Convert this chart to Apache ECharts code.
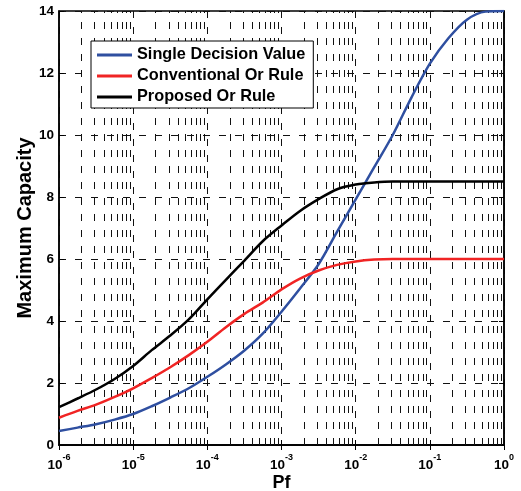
<!DOCTYPE html>
<html>
<head>
<meta charset="utf-8">
<script src="https://cdn.jsdelivr.net/npm/echarts@6/dist/echarts.min.js"></script>
<style>
    html, body { margin: 0; padding: 0; background: #fff; }
    #chart { width: 521px; height: 491px; }
</style>
</head>
<body>
<div id="chart"></div>
<script>
// x positions (Pf), quarter-decade steps
var pf = [1e-6, 1.778e-6, 3.162e-6, 5.623e-6,
          1e-5, 1.778e-5, 3.162e-5, 5.623e-5,
          1e-4, 1.778e-4, 3.162e-4, 5.623e-4,
          1e-3, 1.778e-3, 3.162e-3, 5.623e-3,
          1e-2, 1.778e-2, 3.162e-2, 5.623e-2,
          0.1, 0.1778, 0.3162, 0.5623, 1];

var singleDecision = [0.45, 0.56, 0.67, 0.82, 1.00, 1.25, 1.53, 1.83, 2.20, 2.60, 3.05, 3.60,
                      4.30, 5.05, 5.83, 6.88, 7.92, 8.96, 10.00, 11.20, 12.30, 13.12, 13.72, 13.98, 14.00];
var conventionalOr = [0.88, 1.10, 1.30, 1.55, 1.83, 2.16, 2.51, 2.90, 3.33, 3.80, 4.23, 4.60,
                      5.02, 5.37, 5.63, 5.81, 5.92, 5.98, 6.00, 6.00, 6.00, 6.00, 6.00, 6.00, 6.00];
var proposedOr = [1.22, 1.50, 1.79, 2.13, 2.55, 3.06, 3.53, 4.05, 4.70, 5.33, 5.95, 6.58,
                  7.08, 7.55, 7.93, 8.25, 8.40, 8.47, 8.50, 8.50, 8.50, 8.50, 8.50, 8.50, 8.50];

var seriesNames = ['Single Decision Value', 'Conventional Or Rule', 'Proposed Or Rule'];
var yTicks = [0, 2, 4, 6, 8, 10, 12, 14];

(function () {
    'use strict';

    var chart = echarts.init(document.getElementById('chart'));
    var font = 'Liberation Sans, Arial, Helvetica, sans-serif';
    var yMin = yTicks[0];
    var yMax = yTicks[yTicks.length - 1];

    function pairs(ys) {
        var out = [];
        for (var i = 0; i < pf.length; i++) {
            out.push([pf[i], ys[i]]);
        }
        return out;
    }

    // minor log grid lines at 2..9 of each decade
    var minorLines = [];
    for (var d = -6; d < 0; d++) {
        for (var k = 2; k <= 9; k++) {
            minorLines.push([k * Math.pow(10, d), yMin]);
        }
    }

    var gridDash = {color: '#111', width: 1, type: [7, 9]};

    function curve(name, color, ys) {
        return {
            name: name,
            type: 'line',
            data: pairs(ys),
            symbol: 'none',
            smooth: 0.3,
            lineStyle: {color: color, width: 2.5},
            itemStyle: {color: color},
            z: 3
        };
    }

    var option = {
        backgroundColor: '#fff',
        animation: false,
        textStyle: {fontFamily: font},
        grid: {
            left: 59, right: 17, top: 11, bottom: 46,
            outerBoundsMode: 'none',
            containLabel: false,
            show: true, borderColor: '#000', borderWidth: 1.5
        },
        legend: {
            orient: 'vertical',
            left: 91, top: 41,
            icon: 'rect',
            itemWidth: 35, itemHeight: 3, itemGap: 5,
            padding: [6, 8, 3, 6],
            borderColor: '#000', borderWidth: 1,
            backgroundColor: '#fff',
            textStyle: {fontSize: 16.3, fontWeight: 'bold', color: '#000', lineHeight: 16, fontFamily: font},
            data: seriesNames
        },
        xAxis: [{
            type: 'log',
            logBase: 10,
            min: 1e-6, max: 1,
            splitNumber: 6,
            axisLine: {lineStyle: {color: '#000', width: 1.5}},
            axisTick: {inside: true, length: 5, lineStyle: {color: '#000'}},
            axisLabel: {
                margin: 8,
                color: '#000',
                formatter: function (v) {
                    var e = Math.round(Math.log(v) / Math.LN10);
                    return '{b|10}{s|' + e + '}';
                },
                rich: {
                    b: {fontSize: 13.5, fontWeight: 'bold', color: '#000', fontFamily: font},
                    s: {fontSize: 9, fontWeight: 'bold', color: '#000', fontFamily: font, padding: [0, 0, 16, 0]}
                }
            },
            splitLine: {show: true, lineStyle: gridDash},
            name: 'Pf',
            nameLocation: 'middle',
            nameGap: 29,
            nameMoveOverlap: false,
            nameTextStyle: {fontSize: 18, fontWeight: 'bold', color: '#000', fontFamily: font}
        }, {
            type: 'log',
            logBase: 10,
            position: 'top',
            min: 1e-6, max: 1,
            splitNumber: 6,
            axisLine: {lineStyle: {color: '#000', width: 1.5}},
            axisTick: {inside: true, length: 5, lineStyle: {color: '#000'}},
            axisLabel: {show: false},
            splitLine: {show: false}
        }],
        yAxis: [{
            type: 'value',
            min: yMin, max: yMax, interval: 2,
            axisLine: {show: true, lineStyle: {color: '#000', width: 1.5}},
            axisTick: {inside: true, length: 5, lineStyle: {color: '#000'}},
            axisLabel: {margin: 5, fontSize: 13.5, fontWeight: 'bold', color: '#000', fontFamily: font},
            splitLine: {show: true, lineStyle: gridDash},
            name: 'Maximum Capacity',
            nameLocation: 'middle',
            nameGap: 24,
            nameMoveOverlap: false,
            nameTextStyle: {fontSize: 20, fontWeight: 'bold', color: '#000', fontFamily: font}
        }, {
            type: 'value',
            position: 'right',
            min: yMin, max: yMax, interval: 2,
            axisLine: {show: true, lineStyle: {color: '#000', width: 1.5}},
            axisTick: {inside: true, length: 5, lineStyle: {color: '#000'}},
            axisLabel: {show: false},
            splitLine: {show: false}
        }],
        series: [
            {
                name: 'minor-grid',
                type: 'custom',
                silent: true,
                z: 1,
                data: minorLines,
                encode: {x: 0, y: 1},
                renderItem: function (params, api) {
                    var p0 = api.coord([api.value(0), yMin]);
                    var p1 = api.coord([api.value(0), yMax]);
                    var x = Math.round(p0[0]) + 0.5;
                    return {
                        type: 'line',
                        shape: {x1: x, y1: p0[1], x2: x, y2: p1[1]},
                        style: {stroke: '#111', lineWidth: 1, lineDash: [7, 9]}
                    };
                }
            },
            curve(seriesNames[0], '#2f4fa0', singleDecision),
            curve(seriesNames[1], '#f02424', conventionalOr),
            curve(seriesNames[2], '#000000', proposedOr)
        ]
    };

    chart.setOption(option);
})();
</script>
</body>
</html>
